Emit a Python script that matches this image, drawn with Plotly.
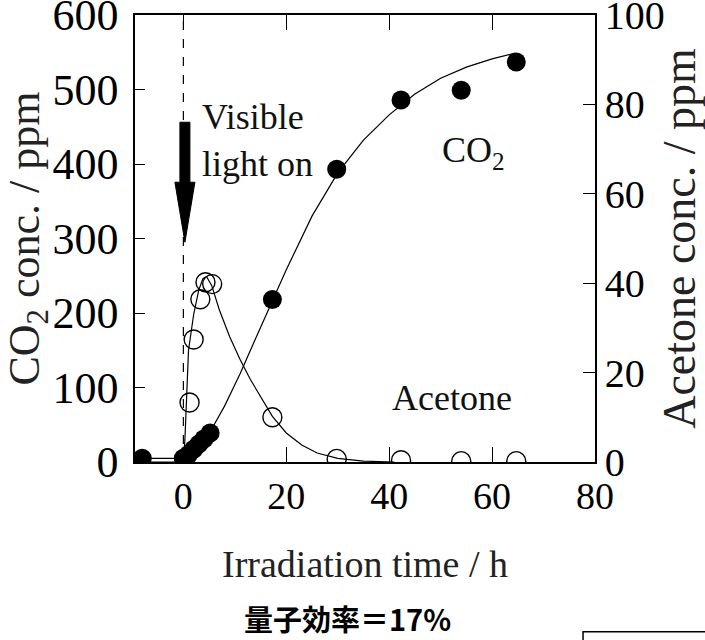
import plotly.graph_objects as go

# ---- data ----
co2_x = [-8, 0, 1, 2, 3, 4, 5.2, 17.3, 29.8, 42.3, 54, 64.7]
co2_y = [5, 5, 10, 17, 24, 31, 39, 218, 393, 486, 499, 537]

acetone_x = [1.2, 2.0, 3.3, 4.3, 5.6, 17.3, 29.8, 42.3, 54, 64.7]
acetone_y = [13.3, 27.4, 36.4, 40.2, 39.8, 10.0, 0.7, 0.4, 0.2, 0.2]

co2_fit_x = [-9.4, 0, 2, 5, 8, 11, 14, 17, 20, 25, 30, 35, 40, 45, 50, 55, 60, 64.5]
co2_fit_y = [5, 5, 15, 38, 75, 118, 165, 212, 258, 330, 388, 432, 466, 494, 515, 530, 541, 549]

acetone_fit_x = [-9.4, 0, 0.3, 0.6, 1.0, 2.0, 3.0, 3.8, 4.5, 5.5, 7, 9, 11, 13, 15, 17.3, 20, 23, 26, 30, 35, 41]
acetone_fit_y = [0, 0, 5, 13, 25, 33, 38.5, 41, 41.5, 39.5, 34, 28, 23, 18.5, 14.5, 10.2, 6.5, 3.8, 2, 0.8, 0.2, 0]

x_ticks = [0, 20, 40, 60, 80]
co2_ticks = [0, 100, 200, 300, 400, 500, 600]
acetone_ticks = [0, 20, 40, 60, 80, 100]

SERIF = "Liberation Serif, Times New Roman, serif"

fig = go.Figure()

fig.add_trace(go.Scatter(x=co2_fit_x, y=co2_fit_y, mode="lines",
                         line=dict(color="black", width=1.2), yaxis="y",
                         showlegend=False, hoverinfo="skip"))
fig.add_trace(go.Scatter(x=co2_x, y=co2_y, mode="markers", name="CO2",
                         marker=dict(symbol="circle", size=19, color="black"),
                         yaxis="y", showlegend=False))
fig.add_trace(go.Scatter(x=acetone_fit_x, y=acetone_fit_y, mode="lines",
                         line=dict(color="black", width=1.2), yaxis="y2",
                         showlegend=False, hoverinfo="skip"))
fig.add_trace(go.Scatter(x=acetone_x, y=acetone_y, mode="markers", name="Acetone",
                         marker=dict(symbol="circle-open", size=19, color="black",
                                     line=dict(width=1.4, color="black")),
                         yaxis="y2", showlegend=False))

fig.update_layout(
    width=705, height=640,
    margin=dict(l=135, r=110, t=15, b=178, pad=0, autoexpand=False),
    paper_bgcolor="white", plot_bgcolor="white",
    font=dict(family=SERIF, color="black"),
    xaxis=dict(range=[-9.4, 80], tickvals=x_ticks, ticks="inside", ticklen=15,
               tickwidth=1.3, tickcolor="black", showline=True, linecolor="black",
               linewidth=1.5, mirror="ticks", showgrid=False, zeroline=False,
               automargin=False,
               tickfont=dict(family=SERIF, size=38, color="black"),
               title=dict(text="Irradiation time / h",
                          font=dict(family=SERIF, size=38, color="#222"),
                          standoff=34)),
    yaxis=dict(range=[0, 600], tickvals=co2_ticks, ticks="inside", ticklen=10,
               tickwidth=1.3, tickcolor="black", showline=True, linecolor="black",
               linewidth=1.5, showgrid=False, zeroline=False, automargin=False,
               ticklabelstandoff=6, ticklabeloverflow="allow",
               tickfont=dict(family=SERIF, size=44, color="black"),
               title=dict(text="CO<sub>2</sub> conc. / ppm",
                          font=dict(family=SERIF, size=44, color="#222"),
                          standoff=10)),
    yaxis2=dict(range=[0, 100], tickvals=acetone_ticks, ticks="inside", ticklen=12,
                tickwidth=1.3, tickcolor="black", showline=True, linecolor="black",
                linewidth=1.5, showgrid=False, zeroline=False, overlaying="y",
                side="right", ticklabeloverflow="allow", automargin=False,
                tickfont=dict(family=SERIF, size=40, color="black"),
                title=dict(text="Acetone conc. / ppm",
                           font=dict(family=SERIF, size=46, color="#222"),
                           standoff=16)),
)

# dashed "light on" line at t = 0
fig.add_shape(type="line", xref="x", yref="y", x0=0, x1=0, y0=0, y1=600,
              line=dict(color="black", width=1.2, dash="dash"))

# thick downward arrow (pixel-sized, anchored at its tip)
fig.add_shape(type="path", xref="x", yref="y", xsizemode="pixel", ysizemode="pixel",
              xanchor=0.3, yanchor=295,
              path="M 0,0 L -10,60 L -5,60 L -5,120 L 5,120 L 5,60 L 10,60 Z",
              fillcolor="black", line=dict(color="black", width=1))

fig.add_annotation(x=3.2, y=431, xref="x", yref="y", xanchor="left", yanchor="middle",
                   text="Visible<br>light on", showarrow=False, align="left",
                   font=dict(family=SERIF, size=36, color="#111"))
fig.add_annotation(x=49.9, y=416, xref="x", yref="y", xanchor="left", yanchor="middle",
                   text="CO<sub>2</sub>", showarrow=False,
                   font=dict(family=SERIF, size=36, color="#111"))
fig.add_annotation(x=40.1, y=86, xref="x", yref="y", xanchor="left", yanchor="middle",
                   text="Acetone", showarrow=False,
                   font=dict(family=SERIF, size=36, color="#111"))

# caption below the chart
fig.add_annotation(x=0.461, y=-0.348, xref="paper", yref="paper",
                   xanchor="center", yanchor="middle", showarrow=False,
                   text="<b>量子効率＝17%</b>",
                   font=dict(family="Noto Sans CJK JP", size=29, color="black"))

# partial frame at bottom-right corner
fig.add_shape(type="rect", xref="paper", yref="paper", x0=0.974, x1=1.3,
              y0=-0.380, y1=-0.45, line=dict(color="black", width=1.5))

fig.write_html("out.html")
